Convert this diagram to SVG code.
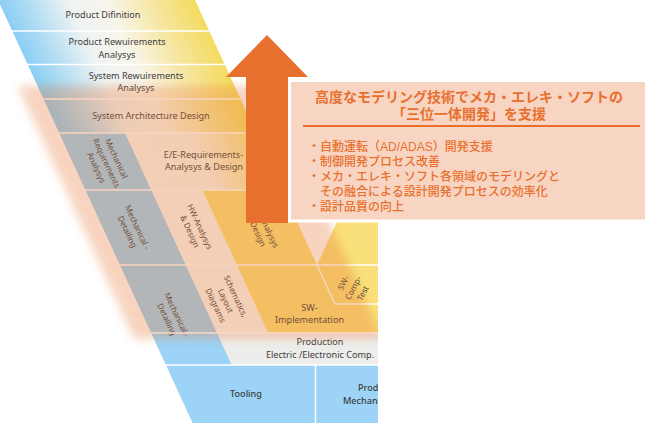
<svg xmlns="http://www.w3.org/2000/svg" width="650" height="423" viewBox="0 0 650 423">
<defs>
<style>
.lbl{font-family:"Noto Sans","Liberation Sans",sans-serif;font-size:9.1px;fill:#3d3d3d;text-anchor:middle}
.rot{font-family:"Noto Sans","Liberation Sans",sans-serif;font-size:8.1px;fill:#3d3d3d;text-anchor:middle}
.sep{stroke:#ffffff;stroke-width:1.5;fill:none}
.jp{font-family:"Liberation Sans","Noto Sans CJK JP",sans-serif;fill:#E8702E}
.ttl{font-size:14px;font-weight:700;text-anchor:middle}
.bul{font-size:12px;font-weight:500}
.blue{fill:#9CD3F6}
.white{fill:#F8F7F4}
.yel{fill:#F9E07A}
</style>
<linearGradient id="gTop" x1="0" y1="0" x2="1" y2="0">
<stop offset="0" stop-color="#8CCEF4"/>
<stop offset="0.12" stop-color="#A9DAF3"/>
<stop offset="0.35" stop-color="#EEF3F3"/>
<stop offset="0.55" stop-color="#F8F5EA"/>
<stop offset="0.8" stop-color="#F6E59A"/>
<stop offset="1" stop-color="#F4DB5E"/>
</linearGradient>
<linearGradient id="gEE" x1="0" y1="0" x2="1" y2="0">
<stop offset="0" stop-color="#F8F7F4"/>
<stop offset="0.5" stop-color="#F8F4EA"/>
<stop offset="1" stop-color="#F6DF78"/>
</linearGradient>
<clipPath id="crop"><rect x="0" y="0" width="378" height="423"/></clipPath>
<filter id="blur" filterUnits="userSpaceOnUse" x="-20" y="40" width="460" height="340"><feGaussianBlur stdDeviation="4.5"/></filter>
</defs>
<rect width="650" height="423" fill="#ffffff"/>
<g id="vmodel" clip-path="url(#crop)">
<g id="product-definition"><rect transform="skewX(24.7)" x="-2" y="0" width="197" height="31" fill="url(#gTop)"/><text class="lbl" x="103" y="18.3">Product Difinition</text></g>
<g id="product-requirements"><rect transform="skewX(24.7)" x="-2" y="31" width="197" height="33.5" fill="url(#gTop)"/><text class="lbl"><tspan x="117" y="45.4">Product Rewuirements</tspan><tspan x="117" y="57.8">Analysys</tspan></text></g>
<g id="system-requirements"><rect transform="skewX(24.7)" x="-2" y="64.5" width="197" height="34.5" fill="url(#gTop)"/><text class="lbl"><tspan x="136" y="78.8">System Rewuirements</tspan><tspan x="136" y="91.2">Analysys</tspan></text></g>
<g id="system-architecture"><rect transform="skewX(24.7)" x="-2" y="99" width="197" height="34" fill="url(#gTop)"/><text class="lbl" x="151" y="119.3">System Architecture Design</text></g>
<g id="mech-requirements"><rect transform="skewX(24.7)" class="blue" x="-2" y="133" width="66" height="57"/><text class="rot" transform="translate(106.5,163) rotate(65)"><tspan x="0" y="-8">Mechanical</tspan><tspan x="0" y="3">Requirements</tspan><tspan x="0" y="14">Analysys</tspan></text></g>
<g id="ee-requirements"><rect transform="skewX(24.7)" x="64" y="133" width="131" height="57" fill="url(#gEE)"/><text class="lbl"><tspan x="203.5" y="157.8">E/E-Requirements-</tspan><tspan x="204" y="170.2">Analysys &amp; Design</tspan></text></g>
<g id="mech-detailing-1"><rect transform="skewX(24.7)" class="blue" x="-2" y="190" width="66" height="75"/><text class="rot" transform="translate(132.5,229.5) rotate(65)"><tspan x="0" y="-2.5">Mechanical -</tspan><tspan x="0" y="8.5">Detailing</tspan></text></g>
<g id="hw-analysis"><rect transform="skewX(24.7)" class="white" x="64" y="190" width="51" height="75"/><text class="rot" transform="translate(195,229) rotate(65)"><tspan x="0" y="-2.5">HW-Analysys</tspan><tspan x="0" y="8.5">&amp; Design</tspan></text></g>
<g id="sw-analysis"><rect transform="skewX(24.7)" class="yel" x="115" y="190" width="80" height="75"/><text class="rot" transform="translate(261.5,228) rotate(65)"><tspan x="0" y="-2.5">SW-Analysys</tspan><tspan x="0" y="8.5">&amp; Design</tspan></text></g>
<g id="right-arm"><polygon class="yel" points="317,265 384,120 390,120 390,265"/></g>
<g id="mech-detailing-2"><rect transform="skewX(24.7)" class="blue" x="-2" y="265" width="66" height="100"/><text class="rot" transform="translate(172,317) rotate(65)"><tspan x="0" y="-2.5">Mechanical -</tspan><tspan x="0" y="8.5">Detailing</tspan></text></g>
<g id="schematics"><rect transform="skewX(24.7)" class="white" x="64" y="265" width="51" height="68"/><text class="rot" transform="translate(225.8,300.8) rotate(65)"><tspan x="0" y="-8">Schematics,</tspan><tspan x="0" y="3">Layout</tspan><tspan x="0" y="14">Diagrams</tspan></text></g>
<g id="sw-implementation"><polygon class="yel" transform="skewX(24.7)" points="115,265 195,265 195,304 400,304 400,333 115,333"/><text class="lbl"><tspan x="309.5" y="310.8">SW-</tspan><tspan x="309.5" y="323.2">Implementation</tspan></text></g>
<g id="sw-comp-test"><rect transform="skewX(24.7)" class="yel" x="195" y="265" width="300" height="39"/><text class="rot" transform="translate(353,288) rotate(-62)"><tspan x="0" y="-8">SW-</tspan><tspan x="0" y="3">Comp-</tspan><tspan x="0" y="14">Test</tspan></text></g>
<g id="production-ee"><rect transform="skewX(24.7)" x="64" y="333" width="400" height="32" fill="#EDEDEC"/><text class="lbl"><tspan x="320" y="345.4">Production</tspan><tspan x="320" y="357.8">Electric /Electronic Comp.</tspan></text></g>
<g id="tooling"><polygon class="blue" points="165.9,365 315,365 315,423 192.6,423"/><text class="lbl" x="246" y="397.3" style="font-weight:500">Tooling</text></g>
<g id="production-mech"><rect class="blue" x="316" y="365" width="70" height="58"/><text class="lbl" style="text-anchor:start;font-weight:500"><tspan x="358" y="391.4">Prod</tspan><tspan x="343" y="403.8">Mechani</tspan></text></g>
<g id="separators">
<line class="sep" x1="0" y1="31" x2="378" y2="31"/>
<line class="sep" x1="0" y1="64.5" x2="378" y2="64.5"/>
<line class="sep" x1="0" y1="99" x2="378" y2="99"/>
<line class="sep" x1="0" y1="133" x2="378" y2="133"/>
<line class="sep" x1="0" y1="190" x2="378" y2="190"/>
<line class="sep" x1="0" y1="265" x2="378" y2="265"/>
<line class="sep" x1="0" y1="333" x2="378" y2="333"/>
<line class="sep" x1="0" y1="365" x2="378" y2="365"/>
<polyline class="sep" points="317,265 335,304 378,304"/>
<line class="sep" x1="315.5" y1="365" x2="315.5" y2="423"/>
</g>
<polygon id="focus-overlay" points="17.6,86 267.6,86 383,339 134,339" fill="#E8702E" fill-opacity="0.3" filter="url(#blur)"/>
</g>
<g id="arrow"><polygon points="267,35 308,77 288,77 288,223 246,223 246,77 226,77" fill="#E8702E"/></g>
<g id="info-box">
<rect x="289.5" y="80.5" width="357" height="140.5" fill="#F8D5C3" stroke="#ffffff" stroke-width="3"/>
<text class="jp ttl"><tspan x="469" y="101.5">高度なモデリング技術でメカ・エレキ・ソフトの</tspan><tspan x="469" y="118.5">「三位一体開発」を支援</tspan></text>
<line x1="303" y1="126" x2="640" y2="126" stroke="#E8702E" stroke-width="2"/>
<text class="jp bul"><tspan x="308" y="151">・自動運転（AD/ADAS）開発支援</tspan><tspan x="308" y="166">・制御開発プロセス改善</tspan><tspan x="308" y="181">・メカ・エレキ・ソフト各領域のモデリングと</tspan><tspan x="320" y="196">その融合による設計開発プロセスの効率化</tspan><tspan x="308" y="211">・設計品質の向上</tspan></text>
</g>
</svg>
